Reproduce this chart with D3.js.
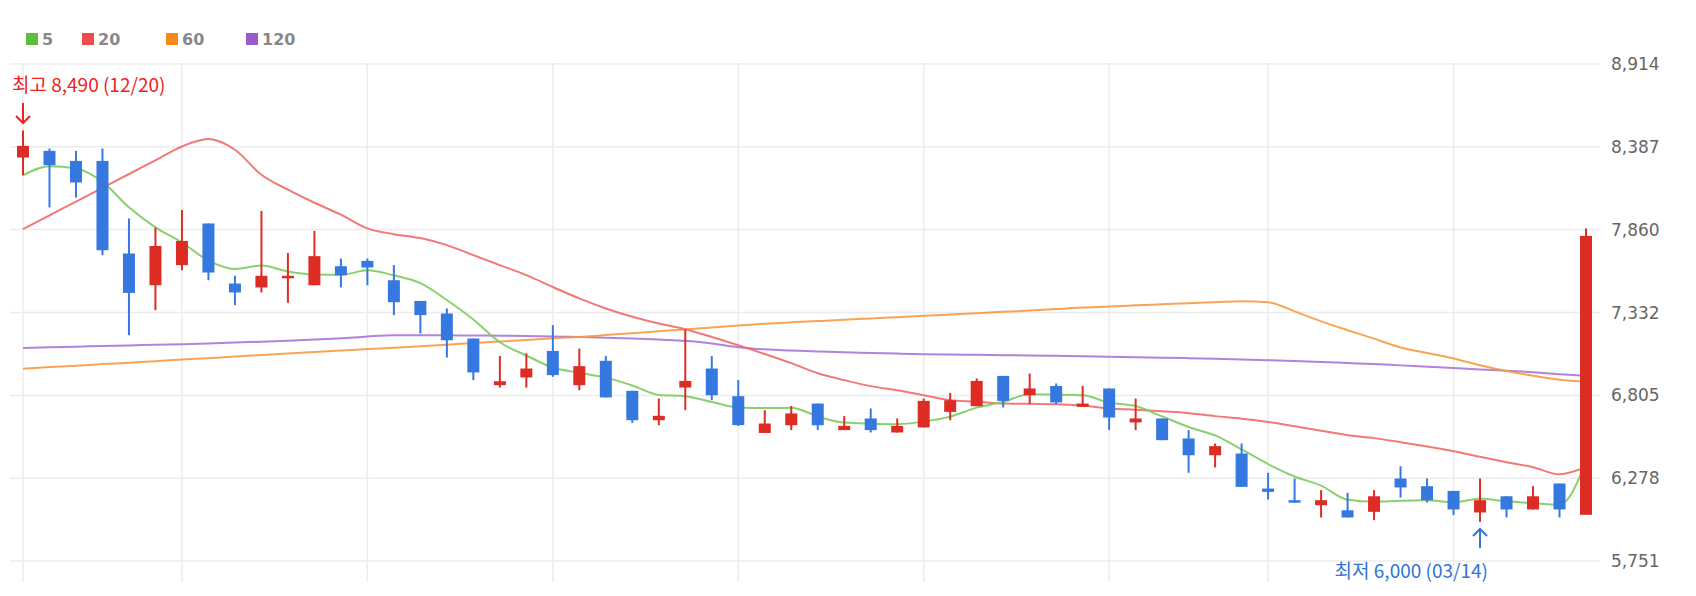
<!DOCTYPE html>
<html><head><meta charset="utf-8">
<script src="https://cdn.jsdelivr.net/npm/d3@7"></script>
<style>body{margin:0;background:#fff}svg{display:block}</style>
</head><body><svg id="c" width="1696" height="596"></svg>
<script>
const openP  = [8319,8361,8297,8297,7708,7506,7634,7899,7517,7492,7559,7506,7627,7661,7538,7406,7326,7167,6870,6919,7088,6870,7025,6834,6647,6855,6976,6800,6566,6615,6753,6584,6658,6569,6601,6700,6736,6929,6806,6865,6732,6849,6633,6658,6531,6424,6435,6212,6138,6106,6074,6064,6276,6227,6197,6060,6163,6079,6244,6045];
const highP  = [8490,8376,8361,8376,7931,7873,7984,7899,7566,7979,7712,7852,7676,7676,7634,7406,7358,7167,7056,7072,7252,7103,7056,6834,6785,7224,7056,6902,6711,6738,6753,6673,6722,6658,6785,6821,6913,6929,6944,6881,6865,6849,6785,6658,6584,6499,6499,6312,6276,6202,6185,6202,6354,6276,6197,6276,6163,6227,6244,7867];
const lowP   = [8206,8001,8064,7697,7188,7347,7602,7538,7379,7460,7394,7506,7492,7506,7316,7199,7046,6902,6855,6855,6923,6838,6792,6630,6615,6711,6774,6610,6566,6584,6584,6584,6569,6569,6601,6647,6736,6728,6749,6749,6732,6584,6584,6520,6312,6346,6223,6142,6123,6028,6028,6011,6155,6123,6043,6000,6028,6079,6028,6045];
const closeP = [8393,8270,8160,7729,7457,7756,7788,7587,7460,7566,7566,7691,7570,7619,7398,7316,7156,6951,6895,6976,6934,6991,6792,6647,6675,6897,6806,6616,6626,6690,6615,6611,6584,6611,6770,6774,6897,6770,6849,6760,6753,6664,6658,6520,6424,6482,6223,6191,6123,6138,6028,6163,6219,6138,6079,6138,6079,6163,6079,7820];
const ma5   = [8206,8264,8249,8164,8002,7874,7778,7663,7610,7631,7593,7574,7571,7602,7569,7519,7412,7288,7143,7059,6982,6949,6918,6868,6808,6800,6763,6728,6724,6727,6671,6632,6625,6622,6638,6670,6727,6764,6812,6810,6806,6759,6737,6671,6604,6550,6461,6368,6289,6231,6141,6129,6134,6137,6125,6147,6131,6119,6108,6380];
const ma20  = [7863,7951,8038,8126,8214,8301,8389,8436,8368,8209,8114,8031,7955,7868,7831,7806,7761,7698,7634,7570,7495,7422,7358,7305,7262,7226,7177,7124,7068,7010,6946,6902,6864,6838,6806,6774,6765,6753,6751,6749,6740,6722,6714,6704,6692,6673,6657,6636,6609,6580,6552,6533,6507,6479,6450,6414,6380,6348,6303,6350];
const ma60  = [6975,6985,6994,7004,7013,7023,7033,7042,7052,7062,7071,7081,7090,7100,7108,7118,7128,7138,7148,7158,7168,7177,7189,7201,7213,7225,7237,7249,7261,7270,7278,7286,7295,7303,7312,7320,7328,7337,7345,7354,7364,7370,7378,7385,7392,7398,7404,7398,7340,7276,7220,7166,7110,7075,7040,6997,6960,6930,6905,6891];
const ma120 = [7106,7111,7115,7119,7123,7127,7131,7136,7141,7147,7153,7160,7168,7180,7188,7188,7187,7186,7185,7183,7180,7176,7172,7167,7160,7152,7135,7112,7098,7090,7084,7079,7075,7071,7067,7065,7063,7061,7059,7057,7054,7051,7048,7045,7042,7038,7034,7029,7024,7018,7011,7004,6996,6988,6980,6970,6962,6952,6940,6930];
const yTicks = [5751,6278,6805,7332,7860,8387,8914];
const weekStarts = [0,6,13,20,27,34,41,47,54];
const legendNames = ["5","20","60","120"];
const legendColors = ["#5dbd3f","#ee4c4a","#f5891e","#9b5bcd"];
const lineColors = ["#7ccc5c","#f06a68","#f79a3f","#a875d8"];
const highLabel = "최고 8,490 (12/20)";
const lowLabel = "최저 6,000 (03/14)";

const svg = d3.select("#c");
const n = closeP.length;
const x = d3.scaleLinear().domain([0, n-1]).range([23, 1586]);
const y = d3.scaleLinear().domain([5751, 8914]).range([561, 64]);

// grid
svg.append("g").selectAll("line").data(yTicks).join("line")
  .attr("x1", 10).attr("x2", 1600).attr("y1", d=>y(d)).attr("y2", d=>y(d))
  .attr("stroke", "#ececec").attr("stroke-width", 1.5);
svg.append("g").selectAll("line").data(weekStarts).join("line")
  .attr("x1", d=>x(d)).attr("x2", d=>x(d)).attr("y1", 63).attr("y2", 582)
  .attr("stroke", "#ececec").attr("stroke-width", 1.5);

// y axis
const ax = svg.append("g").attr("transform", "translate(1604,0)")
  .call(d3.axisRight(y).tickValues(yTicks).tickSize(0).tickPadding(7).tickFormat(d3.format(",")));
ax.select(".domain").remove();
ax.selectAll("text").attr("fill", "#666").style("font-family", "'DejaVu Sans', sans-serif").style("font-size", "17px");

// MA lines
const line = d3.line().x((d,i)=>x(i)).y(d=>y(d)).curve(d3.curveMonotoneX);
[ma120, ma60, ma20, ma5].forEach((arr, k) => {
  const idx = 3 - k;
  svg.append("path").attr("d", line(arr)).attr("fill", "none")
    .attr("stroke", lineColors[idx]).attr("stroke-width", 2).attr("stroke-opacity", 0.9);
});

// candles
const idxs = d3.range(n);
const up = i => closeP[i] >= openP[i];
const col = i => up(i) ? "#dd2c24" : "#3579e0";
svg.append("g").selectAll("line").data(idxs).join("line")
  .attr("x1", i=>x(i)).attr("x2", i=>x(i)).attr("y1", i=>y(highP[i])).attr("y2", i=>y(lowP[i]))
  .attr("stroke", col).attr("stroke-width", 2);
svg.append("g").selectAll("rect").data(idxs).join("rect")
  .attr("x", i=>x(i)-6).attr("width", 12)
  .attr("y", i=>y(Math.max(openP[i], closeP[i])))
  .attr("height", i=>Math.max(2.5, Math.abs(y(openP[i]) - y(closeP[i]))))
  .attr("fill", col);

// legend
const lx = [26, 82, 166, 246];
const lg = svg.append("g");
legendNames.forEach((t, i) => {
  lg.append("rect").attr("x", lx[i]).attr("y", 33).attr("width", 12).attr("height", 12).attr("fill", legendColors[i]);
  lg.append("text").attr("x", lx[i]+16).attr("y", 45).text(t)
    .attr("fill", "#888").style("font-family", "'DejaVu Sans', sans-serif").style("font-weight", "bold").style("font-size", "16px");
});

// annotations
const hi = highP.indexOf(d3.max(highP.slice(0, 5)));
const lo = lowP.indexOf(d3.min(lowP));
svg.append("text").attr("x", 12).attr("y", 92).text(highLabel).attr("fill", "#ee2222")
  .style("font-family", "'Noto Sans CJK KR', sans-serif").style("font-size", "19px");
svg.append("path").attr("d", `M${x(hi)},103 V123 M${x(hi)-7},116 L${x(hi)},123 L${x(hi)+7},116`)
  .attr("stroke", "#ee2222").attr("stroke-width", 2).attr("fill", "none");
svg.append("text").attr("x", x(lo)+8).attr("y", 578).attr("text-anchor", "end").text(lowLabel).attr("fill", "#2f74d8")
  .style("font-family", "'Noto Sans CJK KR', sans-serif").style("font-size", "19px");
svg.append("path").attr("d", `M${x(lo)},548 V529 M${x(lo)-7},536 L${x(lo)},529 L${x(lo)+7},536`)
  .attr("stroke", "#2f74d8").attr("stroke-width", 2).attr("fill", "none");
</script></body></html>
